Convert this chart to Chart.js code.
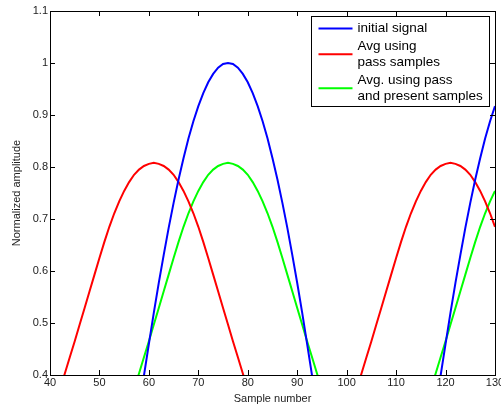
<!DOCTYPE html>
<html>
<head>
<meta charset="utf-8">
<script src="https://cdn.jsdelivr.net/npm/chart.js@4/dist/chart.umd.min.js"></script>
<style>
  html, body { margin: 0; padding: 0; background: #fff; }
  canvas { display: block; }
</style>
</head>
<body>
<canvas id="grafico" width="501" height="408"></canvas>
<script>
// sample numbers on the x axis
const samples = [
  40,41,42,43,44,45,46,47,48,49,50,51,52,53,54,55,56,57,58,59,
  60,61,62,63,64,65,66,67,68,69,70,71,72,73,74,75,76,77,78,79,
  80,81,82,83,84,85,86,87,88,89,90,91,92,93,94,95,96,97,98,99,
  100,101,102,103,104,105,106,107,108,109,110,111,112,113,114,115,116,117,118,119,
  120,121,122,123,124,125,126,127,128,129,130
];

// initial signal (blue)
const initialSignal = [
  0,0,0,0,0,0,0,0,0,0,0,0,0,0,0.068,0.136,0.206,0.272,0.336,0.399,
  0.460,0.520,0.577,0.631,0.683,0.731,0.776,0.817,0.855,0.888,0.917,0.942,0.963,0.979,0.991,0.998,1.000,0.998,0.991,0.979,
  0.963,0.942,0.917,0.888,0.855,0.817,0.776,0.731,0.683,0.631,0.577,0.520,0.460,0.399,0.336,0.272,0.206,0.136,0.068,0,
  0,0,0,0,0,0,0,0,0,0,0,0,0,0,0.068,0.136,0.206,0.272,0.336,0.399,
  0.460,0.520,0.577,0.631,0.683,0.731,0.776,0.817,0.855,0.888,0.917
];

// Avg using pass samples (red)
const avgPass = [
  0.31,0.34,0.372,0.403,0.434,0.465,0.497,0.529,0.561,0.593,0.625,0.656,0.685,0.711,0.734,0.754,0.771,0.785,0.795,0.802,
  0.806,0.808,0.806,0.802,0.795,0.785,0.771,0.754,0.734,0.711,0.685,0.656,0.625,0.593,0.561,0.529,0.497,0.465,0.434,0.403,
  0.372,0.34,0.31,0.28,0.25,0.22,0.20,0.18,0.17,0.16,0.155,0.15,0.155,0.16,0.17,0.18,0.20,0.22,0.25,0.28,
  0.31,0.34,0.372,0.403,0.434,0.465,0.497,0.529,0.561,0.593,0.625,0.656,0.685,0.711,0.734,0.754,0.771,0.785,0.795,0.802,
  0.806,0.808,0.806,0.802,0.795,0.785,0.771,0.754,0.734,0.711,0.685
];

// Avg. using pass and present samples (green)
const avgPassPresent = [
  0.22,0.20,0.18,0.17,0.16,0.155,0.15,0.155,0.16,0.17,0.18,0.20,0.22,0.25,0.28,0.31,0.34,0.372,0.403,0.434,
  0.465,0.497,0.529,0.561,0.593,0.625,0.656,0.685,0.711,0.734,0.754,0.771,0.785,0.795,0.802,0.806,0.808,0.806,0.802,0.795,
  0.785,0.771,0.754,0.734,0.711,0.685,0.656,0.625,0.593,0.561,0.529,0.497,0.465,0.434,0.403,0.372,0.34,0.31,0.28,0.25,
  0.22,0.20,0.18,0.17,0.16,0.155,0.15,0.155,0.16,0.17,0.18,0.20,0.22,0.25,0.28,0.31,0.34,0.372,0.403,0.434,
  0.465,0.497,0.529,0.561,0.593,0.625,0.656,0.685,0.711,0.734,0.754
];

const seriesNames = ['initial signal', 'Avg using\npass samples', 'Avg. using pass\nand present samples'];
const seriesColors = ['#0000ff', '#ff0000', '#00ff00'];

const fuente = 'Liberation Sans, Arial, Helvetica, sans-serif';

// frame box + inward ticks on all four sides
const marcoPlugin = {
  id: 'marco',
  afterDatasetsDraw(chart) {
    const { ctx, chartArea: a, scales } = chart;
    const len = 5;
    ctx.save();
    ctx.strokeStyle = '#000';
    ctx.lineWidth = 1;
    ctx.beginPath();
    scales.x.ticks.forEach(t => {
      const px = Math.round(scales.x.getPixelForValue(t.value)) + 0.5;
      if (px <= a.left + 1 || px >= a.right - 1) return;
      ctx.moveTo(px, a.bottom); ctx.lineTo(px, a.bottom - len);
      ctx.moveTo(px, a.top); ctx.lineTo(px, a.top + len);
    });
    scales.y.ticks.forEach(t => {
      const py = Math.round(scales.y.getPixelForValue(t.value)) + 0.5;
      if (py <= a.top + 1 || py >= a.bottom - 1) return;
      ctx.moveTo(a.left, py); ctx.lineTo(a.left + len, py);
      ctx.moveTo(a.right, py); ctx.lineTo(a.right - len, py);
    });
    ctx.stroke();
    ctx.strokeRect(Math.round(a.left) + 0.5, Math.round(a.top) + 0.5,
      Math.round(a.right - a.left), Math.round(a.bottom - a.top));
    ctx.restore();
  }
};

// legend box in the upper right corner, with two-line entries
const leyendaPlugin = {
  id: 'leyenda',
  afterDraw(chart) {
    const { ctx, chartArea: a } = chart;
    const w = 178, h = 90;
    const x0 = Math.round(a.right - 6 - w) + 0.5;
    const y0 = Math.round(a.top + 5) + 0.5;
    ctx.save();
    ctx.fillStyle = '#fff';
    ctx.fillRect(x0, y0, w, h);
    ctx.strokeStyle = '#000';
    ctx.lineWidth = 1;
    ctx.strokeRect(x0, y0, w, h);
    ctx.font = '13.5px ' + fuente;
    ctx.textBaseline = 'middle';
    ctx.textAlign = 'left';
    let y = y0 + 12;
    const paso = 16.5;
    chart.data.datasets.forEach((ds, i) => {
      const lineas = seriesNames[i].split('\n');
      const yMarca = y + (lineas.length - 1) * paso / 2;
      ctx.strokeStyle = ds.borderColor;
      ctx.lineWidth = 2;
      ctx.beginPath();
      ctx.moveTo(x0 + 7, yMarca);
      ctx.lineTo(x0 + 41, yMarca);
      ctx.stroke();
      ctx.fillStyle = '#000';
      lineas.forEach((l, k) => ctx.fillText(l, x0 + 46, y + k * paso));
      y += lineas.length * paso + 1;
    });
    ctx.restore();
  }
};

const series = [initialSignal, avgPass, avgPassPresent];

new Chart(document.getElementById('grafico'), {
  type: 'line',
  data: {
    datasets: series.map((vals, i) => ({
      label: seriesNames[i],
      data: samples.map((s, k) => ({ x: s, y: vals[k] })),
      borderColor: seriesColors[i],
      backgroundColor: seriesColors[i],
      borderWidth: 2,
      pointRadius: 0,
      tension: 0,
      fill: false
    }))
  },
  options: {
    responsive: false,
    animation: false,
    layout: { padding: { top: 11, right: 6, left: 0, bottom: 0 } },
    plugins: { legend: { display: false }, tooltip: { enabled: false } },
    scales: {
      x: {
        type: 'linear',
        min: 40,
        max: 130,
        grid: { display: false, drawTicks: false },
        border: { display: false },
        ticks: {
          stepSize: 10,
          padding: 1,
          maxRotation: 0,
          color: '#222',
          font: { family: fuente, size: 11 }
        },
        title: {
          display: true,
          text: 'Sample number',
          color: '#222',
          font: { family: fuente, size: 11 },
          padding: { top: 0, bottom: 2.5 }
        },
        afterFit(scale) {
          scale.height = 33;
          scale.paddingLeft = 0;
          scale.paddingRight = 0;
        }
      },
      y: {
        min: 0.4,
        max: 1.1,
        grid: { display: false, drawTicks: false },
        border: { display: false },
        ticks: {
          stepSize: 0.1,
          padding: 2,
          color: '#222',
          font: { family: fuente, size: 11 },
          callback: v => String(Number(v.toFixed(1)))
        },
        title: {
          display: true,
          text: 'Normalized amplitude',
          color: '#222',
          font: { family: fuente, size: 11 },
          padding: { top: 10, bottom: 0 }
        },
        afterFit(scale) {
          scale.width = 50;
          scale.paddingTop = 0;
          scale.paddingBottom = 0;
        }
      }
    }
  },
  plugins: [marcoPlugin, leyendaPlugin]
});
</script>
</body>
</html>
